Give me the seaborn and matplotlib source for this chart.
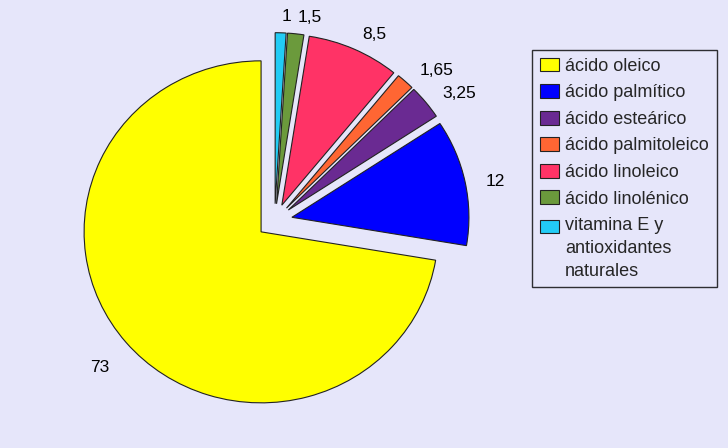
import numpy as np
import matplotlib
matplotlib.use("Agg")
import matplotlib.pyplot as plt
import matplotlib.transforms as mtransforms
from matplotlib.legend_handler import HandlerPatch
from matplotlib.patches import Rectangle
import seaborn as sns

# composition data (percent), in drawing order (counter-clockwise from 12 o'clock)
categories = [
    "ácido oleico",
    "ácido palmítico",
    "ácido esteárico",
    "ácido palmitoleico",
    "ácido linoleico",
    "ácido linolénico",
    "vitamina E y\nantioxidantes\nnaturales",
]
values = [73, 12, 3.25, 1.65, 8.5, 1.5, 1]
value_labels = ["73", "12", "3,25", "1,65", "8,5", "1,5", "1"]
colors = ["#FFFF00", "#0000FF", "#6A2A92", "#FF6633", "#FF3366", "#6B9A3C", "#22CCF5"]

bg = "#E6E6FA"


class TopAlignedHandler(HandlerPatch):
    """Legend square aligned with the first line of a multi-line label."""

    def __init__(self, lift, **kw):
        super().__init__(**kw)
        self.lift = lift

    def create_artists(self, legend, orig_handle, xdescent, ydescent,
                       width, height, fontsize, trans):
        p = Rectangle((-xdescent, -ydescent + self.lift), width, height)
        self.update_prop(p, orig_handle, legend)
        p.set_transform(trans)
        return [p]


sns.set_theme(style="white", rc={"figure.facecolor": bg, "axes.facecolor": bg})
plt.rcParams["font.family"] = ["Liberation Sans", "DejaVu Sans"]

fig = plt.figure(figsize=(7.28, 4.48), dpi=100)
ax = fig.add_axes([0, 0, 1, 1])

wedges, texts = ax.pie(
    values,
    labels=value_labels,
    colors=colors,
    startangle=90,
    counterclock=True,
    explode=[0.1] * len(values),
    labeldistance=1.12,
    wedgeprops=dict(edgecolor="#222222", linewidth=0.8),
    textprops=dict(fontsize=12.5, color="black"),
)
# nudge value labels a few pixels down; lower-half labels hang below their point
shift = mtransforms.offset_copy(ax.transData, fig=fig, x=0, y=-4, units="dots")
for t in texts:
    t.set_transform(shift)
    if t.get_position()[1] < 0:
        t.set_va("top")

# pie centre at about (275, 221) px, radius ~177 px wide / 171 px tall
ax.set_aspect("auto")
ax.set_xlim(-274.6 / 177, (728 - 274.6) / 177)
ax.set_ylim(-(448 - 220.8) / 171, 220.8 / 171)
ax.axis("off")

leg = fig.legend(
    wedges,
    categories,
    loc="upper left",
    bbox_to_anchor=(532 / 728, 1 - 50 / 448),
    frameon=True,
    fancybox=False,
    shadow=False,
    fontsize=13.0,
    handlelength=1.07,
    handleheight=0.8,
    handletextpad=0.35,
    labelspacing=0.52,
    borderpad=0.42,
    borderaxespad=0,
    handler_map={wedges[-1]: TopAlignedHandler(lift=22 * 72 / fig.dpi)},
)
leg.get_frame().set_edgecolor("black")
leg.get_frame().set_linewidth(1.0)
leg.get_frame().set_facecolor(bg)
for t in leg.get_texts():
    t.set_linespacing(1.45)

fig.savefig("out.png", dpi=100, facecolor=bg)
